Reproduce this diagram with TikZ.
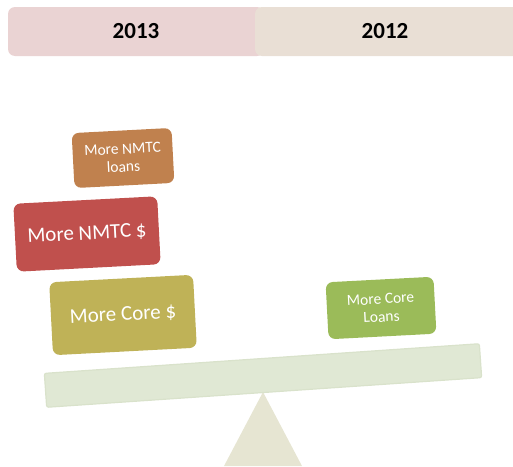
\documentclass[tikz,border=0pt]{standalone}
\usepackage{fontspec}
\setmainfont{Carlito}
\definecolor{hdrpink}{HTML}{EAD3D3}
\definecolor{hdrbeige}{HTML}{E9DFD5}
\definecolor{boxorange}{HTML}{C0814E}
\definecolor{boxred}{HTML}{C0504D}
\definecolor{boxolive}{HTML}{BFB257}
\definecolor{boxgreen}{HTML}{9BBB59}
\definecolor{beamfill}{HTML}{E0E8D4}
\definecolor{beamedge}{HTML}{D9E2CB}
\definecolor{fulcrum}{HTML}{E6E5D2}
\tikzset{
  weight/.style={rounded corners=7pt, inner sep=0pt, text=white, align=center, rotate=3},
  hdrtext/.style={font=\bfseries\fontsize{23}{26}\selectfont, text=black}
}
\begin{document}
\begin{tikzpicture}[x=1pt,y=-1pt]
\useasboundingbox (0,0) rectangle (513,466);
% header
\begin{scope}
\clip (0,0) rectangle (513,466);
\fill[hdrpink, rounded corners=7pt] (8,7) rectangle (264,56);
\fill[hdrbeige, rounded corners=7pt] (255,7) rectangle (530,56);
\end{scope}
\node[hdrtext] (y13) at (136,31) {2013};
\node[hdrtext] (y12) at (385,31) {2012};
% fulcrum
\fill[fulcrum] (263,392) -- (302,466) -- (224,466) -- cycle;
% beam
\node[rotate=3.9, fill=beamfill, draw=beamedge, line width=1.2pt, minimum width=436pt, minimum height=34pt, inner sep=0pt, rounded corners=2pt] (beam) at (263,375.5) {};
% weights
\node[weight, fill=boxolive, minimum width=144pt, minimum height=73pt, font=\fontsize{21}{25}\selectfont] (core) at (123,315) {More Core \$};
\node[weight, fill=boxred, minimum width=144pt, minimum height=68pt, font=\fontsize{21}{25}\selectfont] (nmtc) at (87,234) {More NMTC \$};
\node[weight, fill=boxorange, minimum width=100pt, minimum height=55pt, font=\fontsize{15.5}{18}\selectfont] (nmtcl) at (123,158) {More NMTC\\loans};
\node[weight, fill=boxgreen, minimum width=108pt, minimum height=57pt, font=\fontsize{15.5}{18}\selectfont] (corel) at (381,308) {More Core\\Loans};
\end{tikzpicture}
\end{document}
